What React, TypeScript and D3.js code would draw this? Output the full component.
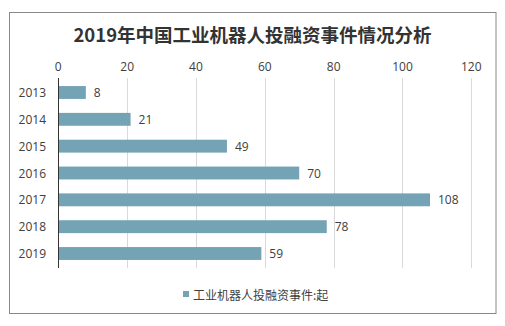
import React from "react";
import * as d3 from "d3";

const years = ["2013", "2014", "2015", "2016", "2017", "2018", "2019"];
const values = [8, 21, 49, 70, 108, 78, 59];
const xTicks = [0, 20, 40, 60, 80, 100, 120];
const title = "2019年中国工业机器人投融资事件情况分析";
const seriesName = "工业机器人投融资事件:起";

export default function App() {
  const W = 505, H = 326;
  const left = 58.3, right = 471.3, top = 78, bottom = 268;
  const x = d3.scaleLinear().domain([0, 120]).range([left, right]);
  const y = d3.scaleBand().domain(years).range([top, bottom]).paddingInner(0.52).paddingOuter(0.3);
  const font = "'Open Sans', 'Noto Sans CJK SC', sans-serif";
  const color = "#74A3B6";
  return (
    <svg width={W} height={H} style={{ position: "absolute", left: 0, top: 0 }} fontFamily={font}>
      <rect x={0} y={0} width={W} height={H} fill="#fff" />
      <rect x={9.5} y={12.5} width={486.5} height={301} fill="#fff" stroke="#888" strokeWidth={1} />
      <text x={252.5} y={42} textAnchor="middle" fontSize={18.5} fontWeight="bold" fill="#333" fontFamily="'Noto Sans CJK SC', sans-serif">{title}</text>
      {xTicks.map((t) => (
        <g key={t}>
          {t !== 0 && <line x1={Math.round(x(t)) + 0.5} x2={Math.round(x(t)) + 0.5} y1={top} y2={bottom} stroke="#d9d9d9" />}
          <text x={x(t)} y={71} textAnchor="middle" fontSize={12} fill="#404040">{t}</text>
        </g>
      ))}
      {years.map((yr, i) => (
        <g key={yr}>
          <rect x={x(0)} y={y(yr)!} width={x(values[i]) - x(0)} height={y.bandwidth()} fill={color} />
          <text x={x(values[i]) + 8} y={y(yr)! + y.bandwidth() / 2} dominantBaseline="central" fontSize={12} fill="#404040">{values[i]}</text>
          <text x={46} y={y(yr)! + y.bandwidth() / 2} dominantBaseline="central" textAnchor="end" fontSize={12} fill="#404040">{yr}</text>
        </g>
      ))}
      <line x1={58.5} x2={58.5} y1={top} y2={bottom} stroke="#333" />
      <rect x={183} y={291} width={6} height={6} fill={color} />
      <text x={193} y={294} dominantBaseline="central" fontSize={12} fill="#404040" fontFamily="'Noto Sans CJK SC', sans-serif">{seriesName}</text>
    </svg>
  );
}
